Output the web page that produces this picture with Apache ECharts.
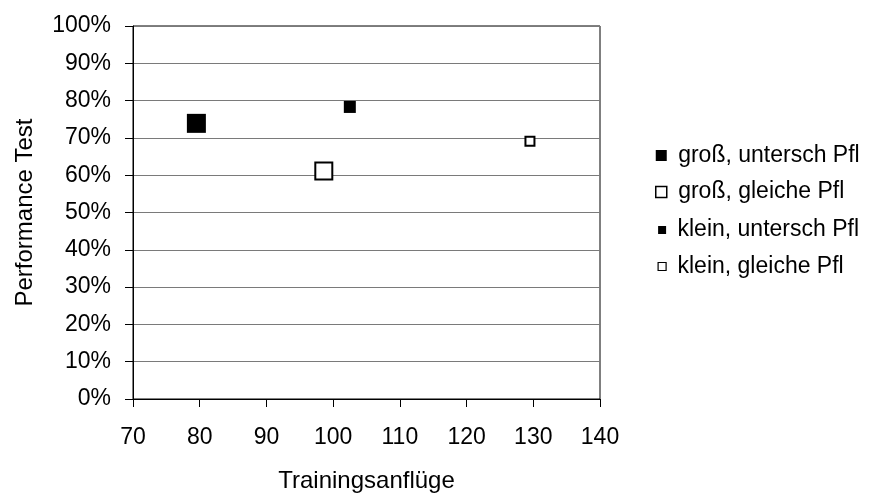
<!DOCTYPE html>
<html>
<head>
<meta charset="utf-8">
<script src="https://cdn.jsdelivr.net/npm/echarts@6/dist/echarts.min.js"></script>
<style>
  html, body { margin: 0; padding: 0; background: #fff; }
  #chart { width: 871px; height: 494px; }
</style>
</head>
<body>
<div id="chart"></div>
<script>
// Series names (legend entries)
var seriesNames = ['groß, untersch Pfl', 'groß, gleiche Pfl', 'klein, untersch Pfl', 'klein, gleiche Pfl'];
// One point per series: [Trainingsanflüge, Performance Test in %]
var grossUnterschied = [[79.5, 73.9]];
var grossGleich = [[98.6, 61.1]];
var kleinUnterschied = [[102.5, 78.3]];
var kleinGleich = [[129.5, 69.1]];
// Axis titles
var xTitle = 'Trainingsanflüge';
var yTitle = 'Performance Test';

var FONT = "'Liberation Sans', Arial, sans-serif";
var FS = 23;
var TITLE_FS = 24;

var chart = echarts.init(document.getElementById('chart'), null, { renderer: 'canvas' });

var legendText = { fontFamily: FONT, fontSize: FS, color: '#000', lineHeight: 23 };

chart.setOption({
  animation: false,
  backgroundColor: '#fff',
  textStyle: { fontFamily: FONT },
  grid: {
    left: 133, right: 271, top: 26, bottom: 95,
    containLabel: false, outerBoundsMode: 'none',
    show: true, borderColor: '#000', borderWidth: 1, backgroundColor: 'transparent'
  },
  legend: [
    {
      orient: 'vertical', left: 655, top: 144, padding: 0,
      itemWidth: 11, itemHeight: 11, itemGap: 13.5,
      selectedMode: false, formatter: ' {name}',
      textStyle: legendText,
      data: [
        { name: seriesNames[0], icon: 'rect', itemStyle: { color: '#000', borderWidth: 0 } },
        { name: seriesNames[1], icon: 'rect', itemStyle: { color: '#fff', borderColor: '#000', borderWidth: 1.5 } }
      ]
    },
    {
      orient: 'vertical', left: 657.5, top: 218.5, padding: 0,
      itemWidth: 8, itemHeight: 8, itemGap: 13.5,
      selectedMode: false, formatter: ' {name}',
      textStyle: legendText,
      data: [
        { name: seriesNames[2], icon: 'rect', itemStyle: { color: '#000', borderWidth: 0 } },
        { name: seriesNames[3], icon: 'rect', itemStyle: { color: '#fff', borderColor: '#000', borderWidth: 1.2 } }
      ]
    }
  ],
  xAxis: {
    type: 'value', min: 70, max: 140, interval: 10,
    name: xTitle, nameLocation: 'middle', nameGap: 70,
    nameTextStyle: { fontFamily: FONT, fontSize: TITLE_FS, color: '#000' },
    axisLine: { show: true, onZero: false, lineStyle: { color: '#000', width: 1 } },
    axisTick: { show: true, length: 8, lineStyle: { color: '#000', width: 1 } },
    axisLabel: { fontFamily: FONT, fontSize: FS, color: '#000', margin: 27 },
    splitLine: { show: false }
  },
  yAxis: {
    type: 'value', min: 0, max: 100, interval: 10,
    name: yTitle, nameLocation: 'middle', nameGap: 96,
    nameTextStyle: { fontFamily: FONT, fontSize: TITLE_FS, color: '#000' },
    axisLine: { show: true, onZero: false, lineStyle: { color: '#000', width: 1 } },
    axisTick: { show: true, length: 8, lineStyle: { color: '#000', width: 1 } },
    axisLabel: { fontFamily: FONT, fontSize: FS, color: '#000', margin: 22, formatter: '{value}%' },
    splitLine: { show: true, lineStyle: { color: '#7a7a7a', width: 1 } }
  },
  series: [
    {
      name: seriesNames[0], type: 'scatter', symbol: 'rect', symbolSize: 19,
      itemStyle: { color: '#000', opacity: 1 }, data: grossUnterschied
    },
    {
      name: seriesNames[1], type: 'scatter', symbol: 'rect', symbolSize: 17,
      itemStyle: { color: '#fff', borderColor: '#000', borderWidth: 2, opacity: 1 }, data: grossGleich
    },
    {
      name: seriesNames[2], type: 'scatter', symbol: 'rect', symbolSize: 12,
      itemStyle: { color: '#000', opacity: 1 }, data: kleinUnterschied
    },
    {
      name: seriesNames[3], type: 'scatter', symbol: 'rect', symbolSize: 9,
      itemStyle: { color: '#fff', borderColor: '#000', borderWidth: 2, opacity: 1 }, data: kleinGleich
    }
  ]
});
</script>
</body>
</html>
